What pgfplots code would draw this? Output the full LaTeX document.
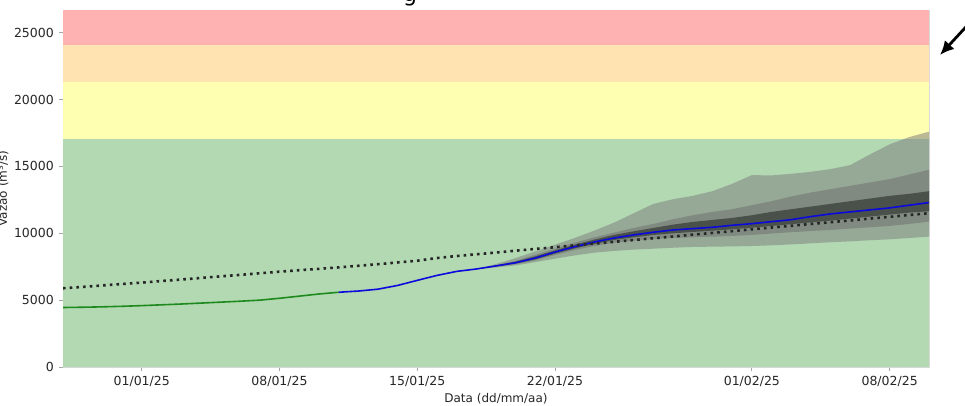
\documentclass[border=0pt]{standalone}
\usepackage{fontspec}
\setmainfont{DejaVu Sans}
\usepackage{pgfplots}
\usepackage{pgfplotstable}
\pgfplotsset{compat=1.18}
\usepgfplotslibrary{fillbetween}
\usetikzlibrary{arrows.meta}

\definecolor{bgred}{RGB}{255,178,178}
\definecolor{bgorange}{RGB}{255,228,178}
\definecolor{bgyellow}{RGB}{255,255,178}
\definecolor{bggreen}{RGB}{178,217,178}
\definecolor{obsgreen}{RGB}{30,138,30}
\definecolor{fcblue}{RGB}{10,10,220}

% day (0 = 01/01/25), outer upper, medium upper, dark upper, dark lower, medium lower, outer lower
\pgfplotstableread{
d   OU    MU    DU    DL    ML    OL
17  7330  7330  7330  7330  7330  7330
18  7700  7620  7590  7530  7500  7450
19  8150  7950  7880  7740  7680  7600
20  8650  8400  8280  8050  7980  7850
21  9150  8850  8720  8480  8380  8100
22  9650  9300  9150  8870  8750  8350
23  10200 9700  9530  9200  9050  8550
24  10800 10050 9880  9500  9300  8680
25  11500 10400 10150 9700  9450  8780
26  12200 10700 10400 9880  9560  8850
27  12550 11050 10650 10000 9650  8920
28  12800 11350 10850 10100 9700  8980
29  13150 11600 11000 10200 9750  9000
30  13700 11800 11150 10300 9800  9020
31  14350 12100 11350 10420 9880  9050
32  14330 12400 11600 10550 9980  9100
33  14450 12750 11800 10680 10080 9170
34  14600 13050 12000 10820 10170 9250
35  14800 13300 12200 10950 10250 9330
36  15100 13550 12400 11100 10350 9400
37  15900 13800 12600 11250 10450 9480
38  16650 14050 12800 11400 10550 9550
39  17200 14400 12950 11550 10700 9650
40  17600 14750 13150 11650 10870 9750
}\fan

\pgfplotstableread{
d  v
-4 4450
-3 4470
-2 4500
-1 4540
0  4590
1  4650
2  4710
3  4780
4  4850
5  4920
6  5000
7  5140
8  5300
9  5460
10 5590
}\obs

\pgfplotstableread{
d  v
10 5590
11 5680
12 5820
13 6100
14 6480
15 6850
16 7150
17 7330
18 7560
19 7800
20 8150
21 8600
22 9000
23 9350
24 9650
25 9880
26 10080
27 10250
28 10350
29 10450
30 10600
31 10720
32 10870
33 11020
34 11250
35 11450
36 11600
37 11750
38 11900
39 12100
40 12300
}\fc

\pgfplotstableread{
d  v
-4 5890
-3 5990
-2 6100
-1 6210
0  6310
1  6430
2  6540
3  6660
4  6780
5  6890
6  7010
7  7130
8  7240
9  7340
10 7450
11 7570
12 7690
13 7820
14 7950
15 8150
16 8300
17 8430
18 8560
19 8700
20 8830
21 8960
22 9100
23 9230
24 9360
25 9500
26 9630
27 9760
28 9900
29 10030
30 10160
31 10300
32 10430
33 10560
34 10700
35 10830
36 10960
37 11100
38 11230
39 11370
40 11500
}\mlt

\begin{document}
\fontsize{12}{14}\selectfont
\begin{tikzpicture}
\begin{axis}[
  name=ax,
  at={(0,0)}, anchor=south west,
  scale only axis,
  width=866pt, height=357pt,
  xmin=-4, xmax=40,
  ymin=0, ymax=26700,
  xtick={0,7,14,21,31,38},
  xticklabels={01/01/25,08/01/25,15/01/25,22/01/25,01/02/25,08/02/25},
  ytick={0,5000,10000,15000,20000,25000},
  scaled y ticks=false,
  /pgf/number format/.cd, 1000 sep={}, assume math mode=true,
  /pgfplots/.cd,
  /tikz/fill between/on layer=main,
  tick align=outside,
  major tick length=4pt,
  tick style={draw=black!35, line width=0.8pt},
  axis line style={draw=black!15, line width=0.8pt},
  xtick pos=bottom, ytick pos=left,
  tick label style={font=\fontsize{12.5}{14}\selectfont, text=black!85},
  xticklabel style={yshift=-1pt},
  yticklabel style={xshift=-1pt},
  xlabel={Data (dd/mm/aa)},
  xlabel style={at={(axis description cs:0.5,0)}, anchor=center, yshift=-32pt, font=\fontsize{12}{14}\selectfont, text=black!85},
  ylabel={Vazão (m³/s)},
  ylabel style={at={(axis description cs:-0.0693,0.5)}, anchor=center, font=\fontsize{12}{14}\selectfont, text=black!85},
  clip=true,
]
% background alert bands
\addplot[draw=none, fill=bggreen] coordinates {(-4,0) (40,0) (40,17050) (-4,17050)} --cycle;
\addplot[draw=none, fill=bgyellow] coordinates {(-4,17050) (40,17050) (40,21300) (-4,21300)} --cycle;
\addplot[draw=none, fill=bgorange] coordinates {(-4,21300) (40,21300) (40,24100) (-4,24100)} --cycle;
\addplot[draw=none, fill=bgred] coordinates {(-4,24100) (40,24100) (40,26700) (-4,26700)} --cycle;

% forecast envelope
\addplot[draw=none, name path=ou, forget plot] table[x=d, y=OU] {\fan};
\addplot[draw=none, name path=mu, forget plot] table[x=d, y=MU] {\fan};
\addplot[draw=none, name path=du, forget plot] table[x=d, y=DU] {\fan};
\addplot[draw=none, name path=dl, forget plot] table[x=d, y=DL] {\fan};
\addplot[draw=none, name path=ml, forget plot] table[x=d, y=ML] {\fan};
\addplot[draw=none, name path=ol, forget plot] table[x=d, y=OL] {\fan};
\addplot[fill=gray, fill opacity=0.55, draw=none] fill between[of=ou and ol];
\addplot[fill=black!60, fill opacity=0.45, draw=none] fill between[of=mu and ml];
\addplot[fill=black, fill opacity=0.42, draw=none] fill between[of=du and dl];

% series
\addplot[obsgreen, line width=1.6pt] table[x=d, y=v] {\obs};
\addplot[fcblue, line width=1.6pt] table[x=d, y=v] {\fc};
\addplot[black!85, line width=2.6pt, dash pattern=on 2.6pt off 4.1pt] table[x=d, y=v] {\mlt};
\end{axis}
% cropped title fragment and annotation arrow
\node[anchor=base, font=\fontsize{22}{24}\selectfont, inner sep=0pt] at (347pt,365pt) {g};
\draw[line width=2.8pt, -{Latex[length=14pt,width=13pt]}] (925pt,364pt) -- (877pt,312pt);
\pgfresetboundingbox
\path[use as bounding box] (-63pt,-38pt) rectangle (902pt,367pt);
\end{tikzpicture}
\end{document}
